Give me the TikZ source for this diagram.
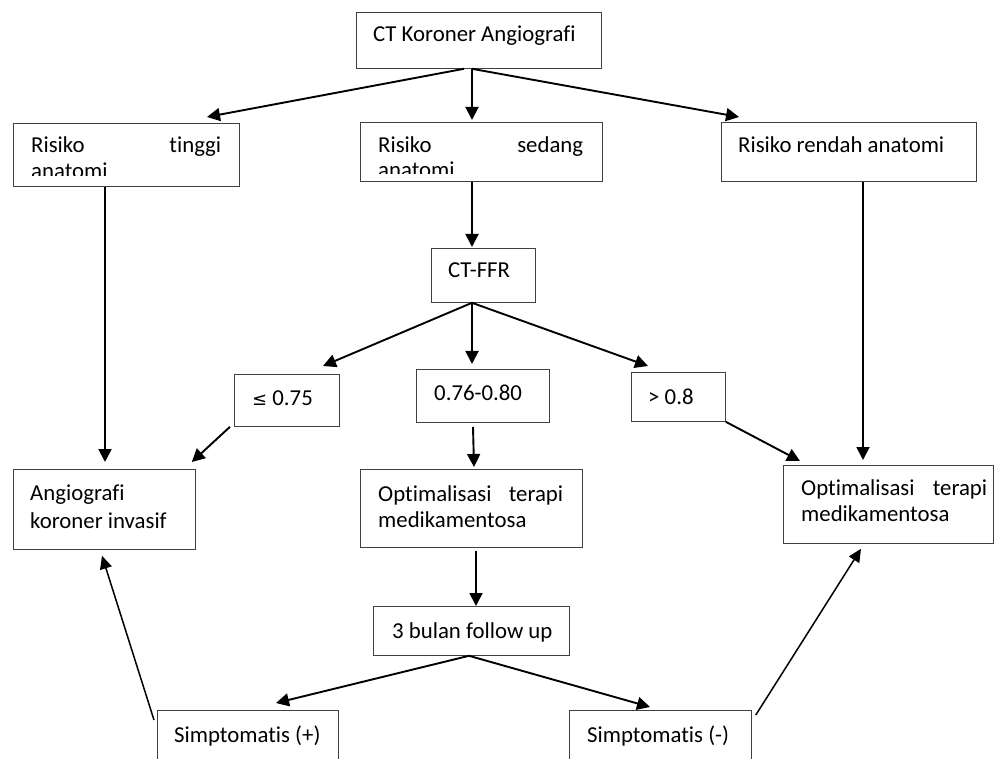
\documentclass[tikz,border=0pt]{standalone}
\usepackage{fontspec}
\setmainfont{Carlito}[Ligatures={NoCommon,NoRare,NoContextual}]
\usetikzlibrary{arrows.meta,calc}
\tikzset{
  box/.style={draw=black!75, line width=0.8pt, inner sep=0pt, anchor=north west, fill=none},
  txt/.style={inner sep=0pt, anchor=base west, font=\fontsize{22.8}{27.5}\selectfont},
  arr/.style={line width=1.9pt, -{Triangle[length=13pt,width=13pt]}},
  thinarr/.style={line width=1.5pt, -{Triangle[length=13pt,width=12pt]}}
}
\newcommand{\bx}[5]{\node[box, minimum width=#4-#2, minimum height=#5-#3] (#1) at (#2,#3) {};}
\begin{document}
\begin{tikzpicture}[x=1pt,y=-1pt]
\clip (0,0) rectangle (994,759);
\useasboundingbox (0,0) rectangle (994,759);
\fill[white] (0,0) rectangle (994,759);
% boxes
\bx{ct}{356}{12}{601}{68}
\bx{tinggi}{13}{123}{239}{186}
\bx{sedang}{360}{122}{602}{181}
\bx{rendah}{721}{122}{976}{181}
\bx{ffr}{431}{248}{535}{302}
\bx{le}{234}{374}{339}{426}
\bx{mid}{416}{369}{549}{422}
\bx{gt}{631}{372}{725}{421}
\bx{ang}{13}{469}{195}{549}
\bx{opta}{360}{469}{582}{547}
\bx{optb}{783}{465}{993}{543}
\bx{bulan}{373}{606}{569}{655}
\bx{sp}{157}{710}{338}{790}
\bx{sm}{569}{710}{751}{790}
% texts
\node[txt] (tct) at (373,42) {CT Koroner Angiografi};
\begin{scope}
\clip (14,124) rectangle (238,176);
\node[txt] (tt1) at (31,153) {\makebox[190pt][s]{Risiko tinggi}};
\node[txt] (tt2) at (31,179) {anatomi};
\end{scope}
\begin{scope}
\clip (361,123) rectangle (601,174);
\node[txt] (ts1) at (378,153) {\makebox[205pt][s]{Risiko sedang}};
\node[txt] (ts2) at (378,178) {anatomi};
\end{scope}
\node[txt] (tr) at (738,153) {Risiko rendah anatomi};
\node[txt] (tffr) at (448,278) {CT-FFR};
\node[txt] (tle) at (252,406) {\fontspec{DejaVu Sans}\fontsize{18}{20}\selectfont ≤\fontspec{Carlito}\fontsize{22.8}{27.5}\selectfont{} 0.75};
\node[txt] (tmid) at (434,401) {0.76-0.80};
\node[txt] (tgt) at (648,405) {> 0.8};
\node[txt] (tang1) at (30,500) {Angiografi};
\node[txt] (tang2) at (30,528) {koroner invasif};
\node[txt] (topa1) at (378,501) {\makebox[185pt][s]{Optimalisasi terapi}};
\node[txt] (topa2) at (378,527) {medikamentosa};
\node[txt] (topb1) at (801,495) {\makebox[186pt][s]{Optimalisasi terapi}};
\node[txt] (topb2) at (801,521) {medikamentosa};
\node[txt] (tbulan) at (392,638) {3 bulan follow up};
\node[txt] (tsp) at (174,742) {Simptomatis (+)};
\node[txt] (tsm) at (587,742) {Simptomatis (-)};
% connectors
\draw[arr] ($(ct.south west)+(108,0)$) -- ($(tinggi.north west)+(194,-6)$);
\draw[arr] ($(ct.south west)+(116,0)$) -- ($(sedang.north west)+(112,-2)$);
\draw[arr] ($(ct.south west)+(116,0)$) -- ($(rendah.north west)+(18,-5)$);
\draw[arr] ($(tinggi.south west)+(92,0)$) -- ($(ang.north west)+(92,-7)$);
\draw[arr] ($(sedang.south west)+(112,0)$) -- ($(ffr.north west)+(41,-1)$);
\draw[arr] ($(rendah.south west)+(142,0)$) -- ($(optb.north west)+(80,-5)$);
\draw[arr] ($(ffr.south west)+(41,0)$) -- ($(le.north west)+(89,-8)$);
\draw[arr] ($(ffr.south west)+(41,0)$) -- ($(mid.north west)+(56,-5)$);
\draw[arr] ($(ffr.south west)+(41,0)$) -- ($(gt.north west)+(17,-6)$);
\draw[arr] ($(le.south west)+(-4,0)$) -- ($(ang.north east)+(-4,-7)$);
\draw[arr] ($(mid.south west)+(57,4)$) -- ($(opta.north west)+(114,-2)$);
\draw[arr] (gt.south east) -- ($(optb.north west)+(17,-4)$);
\draw[arr] ($(opta.south west)+(116,3)$) -- ($(bulan.north west)+(103,0)$);
\draw[arr] ($(bulan.south west)+(96,0)$) -- ($(sp.north west)+(119,-7)$);
\draw[arr] ($(bulan.south west)+(96,0)$) -- ($(sm.north west)+(81,-3)$);
\draw[thinarr] ($(sp.north west)+(-3,10)$) -- ($(ang.south west)+(89,6)$);
\draw[thinarr] ($(sm.north east)+(4,5)$) -- ($(optb.south west)+(78,5)$);
\end{tikzpicture}
\end{document}
